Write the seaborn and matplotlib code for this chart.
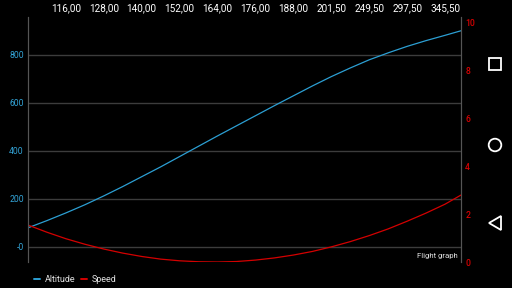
import matplotlib
matplotlib.use("Agg")
import matplotlib.pyplot as plt
import seaborn as sns
import pandas as pd
from matplotlib.patches import Rectangle, Circle, Polygon
from matplotlib.lines import Line2D

# ---- data ----
tick_labels = ["116,00", "128,00", "140,00", "152,00", "164,00", "176,00",
               "188,00", "201,50", "249,50", "297,50", "345,50"]
tick_pos = [1, 2, 3, 4, 5, 6, 7, 8, 9, 10, 11]
x_index = [0, 0.5, 1, 1.5, 2, 2.5, 3, 3.5, 4, 4.5, 5, 5.5, 6, 6.5, 7, 7.5,
           8, 8.5, 9, 9.5, 10, 10.5, 11, 11.42]
altitude = [80, 110, 142, 176, 213, 252, 293, 334, 377, 420, 463, 505, 547,
            589, 630, 671, 710, 746, 780, 809, 836, 860, 882, 901]
speed = [1.54, 1.24, 0.97, 0.74, 0.54, 0.37, 0.23, 0.12, 0.05, 0.01, 0.00,
         0.02, 0.08, 0.17, 0.29, 0.44, 0.63, 0.85, 1.10, 1.38, 1.70, 2.04,
         2.41, 2.79]
left_ticks = [0, 200, 400, 600, 800]
left_labels = ["-0", "200", "400", "600", "800"]
right_ticks = [0, 2, 4, 6, 8, 10]

df = pd.DataFrame({"x": x_index, "Altitude": altitude, "Speed": speed})

sns.set_theme(style="dark")
plt.rcParams["font.family"] = ["Roboto", "DejaVu Sans"]
plt.rcParams["axes.facecolor"] = "black"
plt.rcParams["figure.facecolor"] = "black"

ALT_C = "#2c9fd3"
SPD_C = "#d40000"

fig = plt.figure(figsize=(5.12, 2.88), dpi=100)
ax = fig.add_axes([28 / 512, 1 - 262 / 288, (461 - 28) / 512, (262 - 17) / 288])
ax.set_facecolor("black")
ax2 = ax.twinx()

sns.lineplot(data=df, x="x", y="Altitude", ax=ax, color=ALT_C, linewidth=0.9)
sns.lineplot(data=df, x="x", y="Speed", ax=ax2, color=SPD_C, linewidth=0.9)

ax.set_xlim(0, 11.42)
ax.set_ylim(-62.5, 958.3)
ax2.set_ylim(0, 10.21)

ax.xaxis.tick_top()
ax.set_xticks(tick_pos)
ax.set_xticklabels(tick_labels, color="white", fontsize=7.2)
ax.tick_params(axis="x", length=0, pad=2.5)

ax.set_yticks(left_ticks)
ax.set_yticklabels(left_labels, color="#33a3d6", fontsize=6.2)
ax.tick_params(axis="y", length=0, pad=3)

ax2.set_yticks(right_ticks)
ax2.set_yticklabels([str(t) for t in right_ticks], color="#d80000",
                    fontsize=6.2, fontweight="medium")
ax2.tick_params(axis="y", length=0, pad=3)

ax.set_xlabel("")
ax.set_ylabel("")
ax2.set_ylabel("")

ax.grid(False)
ax2.grid(False)
ax.yaxis.grid(True, color="#3c3c3c", linewidth=1.0)
for a in (ax, ax2):
    for s in ("top", "bottom"):
        a.spines[s].set_visible(False)
    for s in ("left", "right"):
        a.spines[s].set_color("#555555")
        a.spines[s].set_linewidth(0.8)

ax.text(0.993, 0.012, "Flight graph", transform=ax.transAxes, ha="right",
        va="bottom", color="#e0e0e0", fontsize=5.6)

handles = [Line2D([], [], color=ALT_C, linewidth=1.4),
           Line2D([], [], color=SPD_C, linewidth=1.4)]
fig.legend(handles, ["Altitude", "Speed"], loc="center left",
           bbox_to_anchor=(26 / 512, 1 - 280 / 288), ncol=2, frameon=False,
           fontsize=6.5, handlelength=0.7, handletextpad=0.5,
           columnspacing=0.6, labelcolor="#e0e0e0")

# navigation bar icons
fig.patches.append(Rectangle((489 / 512, 1 - 70 / 288), 12 / 512, 12 / 288,
                             transform=fig.transFigure, fill=False,
                             edgecolor="white", linewidth=1.3))
fig.patches.append(Circle((495, 288 - 145), 6.3,
                          transform=None, fill=False,
                          edgecolor="white", linewidth=1.3))
fig.patches.append(Polygon([[489 / 512, 1 - 223 / 288],
                            [501 / 512, 1 - 216 / 288],
                            [501 / 512, 1 - 230 / 288]],
                           closed=True, transform=fig.transFigure, fill=False,
                           edgecolor="white", linewidth=1.3))

fig.savefig("out.png", dpi=100, facecolor="black")
